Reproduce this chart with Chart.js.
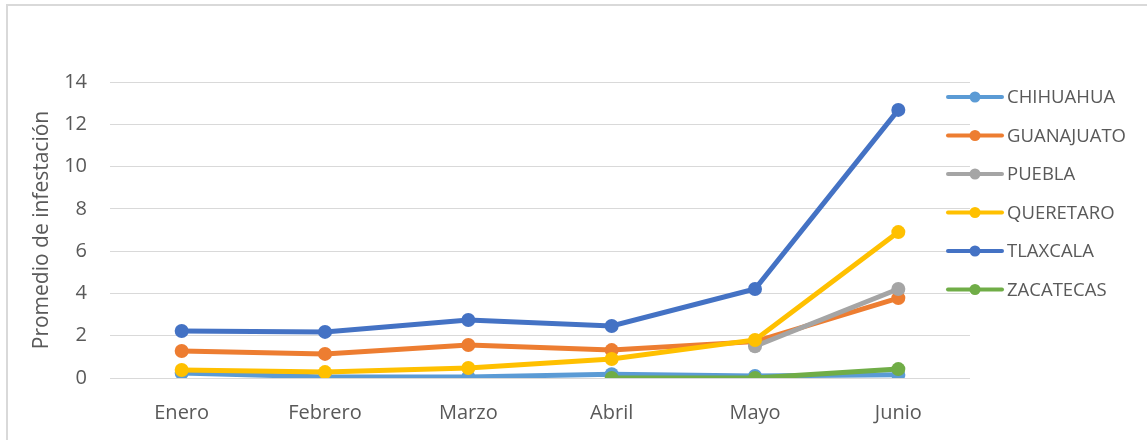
<!DOCTYPE html>
<html>
<head>
<meta charset="utf-8">
<script src="https://cdn.jsdelivr.net/npm/chart.js@4"></script>
<style>
  body { margin: 0; background: #fff; overflow: hidden; }
  #wrap { position: relative; width: 1147px; height: 440px; }
  #frame { position: absolute; left: 6px; top: 4px; width: 1200px; height: 500px;
           border-left: 2px solid #d9d9d9; border-top: 2px solid #d9d9d9; }
  canvas { position: absolute; left: 0; top: 0; }
</style>
</head>
<body>
<div id="wrap">
  <div id="frame"></div>
  <canvas id="chart" width="1147" height="440"></canvas>
</div>
<script>
// datos
const meses = ['Enero', 'Febrero', 'Marzo', 'Abril', 'Mayo', 'Junio'];
const estados = ['CHIHUAHUA', 'GUANAJUATO', 'PUEBLA', 'QUERETARO', 'TLAXCALA', 'ZACATECAS'];
const colores = ['#5B9BD5', '#ED7D31', '#A5A5A5', '#FFC000', '#4472C4', '#70AD47'];

const chihuahua  = [0.24, 0.05, 0.05, 0.18, 0.1, 0.15];
const guanajuato = [1.28, 1.14, 1.56, 1.32, 1.72, 3.78];
const puebla     = [null, null, null, null, 1.5, 4.21];
const queretaro  = [0.38, 0.28, 0.47, 0.9, 1.8, 6.9];
const tlaxcala   = [2.22, 2.18, 2.74, 2.46, 4.21, 12.68];
const zacatecas  = [null, null, null, 0, 0, 0.42];

const series = [chihuahua, guanajuato, puebla, queretaro, tlaxcala, zacatecas];
const yTicks = [0, 2, 4, 6, 8, 10, 12, 14];

const txtColor = '#595959';
const fontFam = '"Open Sans", "Liberation Sans", sans-serif';

// leyenda a la derecha (línea + punto como en Excel)
const leyendaPlugin = {
    id: 'leyenda',
    afterDraw(chart) {
        const ctx = chart.ctx;
        ctx.save();
        chart.data.datasets.forEach((ds, i) => {
            const y = 97 + i * 38.5;
            ctx.strokeStyle = ds.borderColor;
            ctx.lineWidth = 4;
            ctx.lineCap = 'round';
            ctx.beginPath();
            ctx.moveTo(948, y);
            ctx.lineTo(1002, y);
            ctx.stroke();
            ctx.fillStyle = ds.borderColor;
            ctx.beginPath();
            ctx.arc(975, y, 5.5, 0, Math.PI * 2);
            ctx.fill();
            ctx.fillStyle = txtColor;
            ctx.font = '18.5px ' + fontFam;
            ctx.textBaseline = 'middle';
            ctx.textAlign = 'left';
            ctx.fillText(ds.label, 1007, y + 1);
        });
        ctx.restore();
    }
};

new Chart(document.getElementById('chart').getContext('2d'), {
    type: 'line',
    data: {
        labels: meses,
        datasets: series.map((vals, i) => ({
            label: estados[i],
            data: vals,
            borderColor: colores[i],
            backgroundColor: colores[i],
            borderWidth: 5,
            pointRadius: 7,
            pointHoverRadius: 7,
            pointBorderWidth: 0,
            tension: 0,
            order: series.length - i
        }))
    },
    options: {
        responsive: false,
        animation: false,
        layout: { padding: { left: 22, top: 82, right: 177, bottom: 0 } },
        plugins: { legend: { display: false }, tooltip: { enabled: false } },
        scales: {
            x: {
                offset: true,
                grid: { display: false },
                border: { display: false },
                ticks: { color: txtColor, font: { size: 20, family: fontFam }, padding: 15 },
                afterFit: s => { s.height = 62; }
            },
            y: {
                min: 0, max: 14,
                afterBuildTicks: s => { s.ticks = yTicks.map(v => ({ value: v })); },
                grid: { color: '#d9d9d9', lineWidth: 1, drawTicks: false },
                border: { display: false },
                ticks: { color: txtColor, font: { size: 20, family: fontFam }, padding: 23 },
                title: {
                    display: true,
                    text: 'Promedio de infestación',
                    color: txtColor,
                    font: { size: 21, family: fontFam },
                    padding: { top: 7, bottom: 0 }
                },
                afterFit: s => { s.width = 88; }
            }
        }
    },
    plugins: [leyendaPlugin]
});
</script>
</body>
</html>
